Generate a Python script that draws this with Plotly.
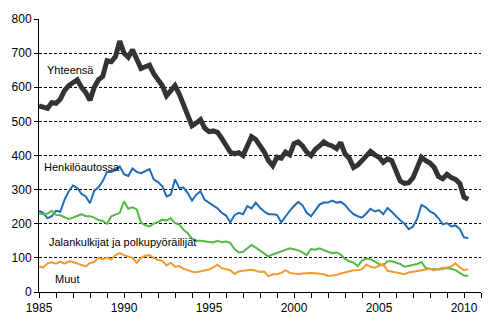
import plotly.graph_objects as go

# Quarterly observations, Jan 1985 - Apr 2010 (decimal years)
years = [1985 + q / 4 for q in range(102)]

yhteensa = [
    545, 540, 538, 555, 553, 565, 590, 605, 612, 622, 600, 585,
    562, 600, 622, 632, 678, 675, 690, 735, 700, 688, 710, 685,
    655, 660, 665, 640, 625, 605, 575, 590, 605, 580, 548, 520,
    487, 495, 505, 480, 470, 472, 468, 450, 432, 410, 405, 408,
    400, 432, 455, 447, 430, 410, 385, 370, 395, 392, 410, 402,
    435, 440, 428, 410, 400, 418, 428, 440, 432, 428, 420, 438,
    405, 392, 365, 372, 385, 400, 412, 402, 395, 380, 390, 385,
    350, 325, 318, 320, 335, 365, 395, 385, 378, 365, 338, 332,
    345, 335, 330, 318, 278, 272,
]

henkiloautossa = [
    238, 232, 216, 222, 238, 235, 270, 295, 312, 305, 288, 280,
    260, 297, 307, 325, 352, 352, 358, 368, 345, 340, 362, 352,
    348, 355, 360, 330, 322, 310, 280, 285, 330, 305, 306, 290,
    268, 285, 295, 270, 262, 255, 245, 232, 224, 204, 225, 232,
    228, 252, 245, 262, 247, 236, 228, 228, 226, 204, 222, 238,
    252, 264, 254, 232, 222, 240, 256, 262, 262, 268, 262, 264,
    255, 240, 228, 222, 218, 230, 244, 236, 240, 228, 246, 235,
    222, 210, 200, 184, 192, 215, 255, 248, 236, 230, 216, 198,
    202, 192, 195, 185, 160, 158,
]

jalankulkijat = [
    230, 228, 230, 238, 226, 225, 219, 214, 218, 222, 228, 222,
    222, 218, 211, 208, 200, 222, 226, 232, 266, 244, 248, 242,
    203, 196, 192, 200, 205, 212, 210, 216, 202, 198, 182, 172,
    156, 150, 150, 148, 146, 145, 150, 146, 148, 144, 126, 116,
    118, 128, 138, 130, 122, 114, 104, 110, 114, 120, 124, 128,
    125, 122, 116, 108, 126, 124, 128, 122, 118, 114, 116, 110,
    97, 90, 86, 76, 92, 98, 96, 90, 82, 78, 90, 90,
    86, 82, 74, 76, 78, 82, 88, 70, 68, 66, 66, 68,
    70, 68, 64, 56, 48, 47,
]

muut = [
    75, 72, 84, 87, 83, 89, 83, 90, 88, 84, 80, 75,
    85, 88, 100, 96, 101, 96, 108, 114, 108, 104, 100, 86,
    100, 106, 108, 100, 94, 92, 78, 86, 74, 76, 68, 64,
    59, 58, 60, 62, 66, 72, 80, 70, 68, 64, 53, 60,
    62, 64, 65, 62, 59, 60, 46, 52, 52, 56, 64, 56,
    55, 52, 54, 56, 56, 55, 54, 52, 47, 48, 50, 54,
    58, 62, 64, 64, 67, 80, 74, 71, 76, 82, 62, 59,
    57, 54, 52, 57, 59, 60, 62, 64, 68, 64, 68, 71,
    72, 75, 84, 72, 64, 67,
]

year_ticks = list(range(1985, 2012))
year_labels = [str(y) if y % 5 == 0 else "" for y in year_ticks]
value_ticks = [0, 100, 200, 300, 400, 500, 600, 700, 800]

series = [
    ("Yhteensä", yhteensa, "#333333", 5),
    ("Henkilöautossa", henkiloautossa, "#1f6cb8", 2),
    ("Jalankulkijat ja polkupyöräilijät", jalankulkijat, "#55b947", 2),
    ("Muut", muut, "#f39a34", 2),
]

fig = go.Figure()
for name, vals, color, width in series:
    fig.add_trace(go.Scatter(
        x=years, y=vals, mode="lines", name=name,
        line=dict(color=color, width=width),
        hoverinfo="skip",
    ))

# Series labels placed beside the lines
labels = [
    ("Yhteensä", 1985.33, 652),
    ("Henkilöautossa", 1985.16, 366),
    ("Jalankulkijat ja polkupyöräilijät", 1985.45, 147),
    ("Muut", 1985.8, 37),
]
for text, lx, ly in labels:
    fig.add_annotation(
        x=lx, y=ly, text=text, showarrow=False,
        xanchor="left", yanchor="middle",
        font=dict(family="Liberation Sans, Arial, sans-serif", size=11, color="#000000"),
    )

fig.update_layout(
    width=501, height=330,
    margin=dict(l=38, r=20, t=12, b=38),
    paper_bgcolor="white", plot_bgcolor="white",
    showlegend=False,
    font=dict(family="Liberation Sans, Arial, sans-serif", size=12, color="#000000"),
    xaxis=dict(
        range=[1985, 2011],
        tickmode="array", tickvals=year_ticks, ticktext=year_labels,
        ticks="outside", ticklen=5, tickwidth=1, tickcolor="#000000",
        showline=True, linecolor="#000000", linewidth=1,
        showgrid=False, zeroline=False,
        tickfont=dict(size=12),
    ),
    yaxis=dict(
        range=[0, 800],
        tickmode="array", tickvals=value_ticks,
        ticks="outside", ticklen=4, tickwidth=1, tickcolor="#000000",
        showline=True, linecolor="#000000", linewidth=1,
        showgrid=True, gridcolor="#000000", gridwidth=1, griddash="3px,2px",
        zeroline=False,
        tickfont=dict(size=12),
    ),
)

fig.write_html("out.html")
